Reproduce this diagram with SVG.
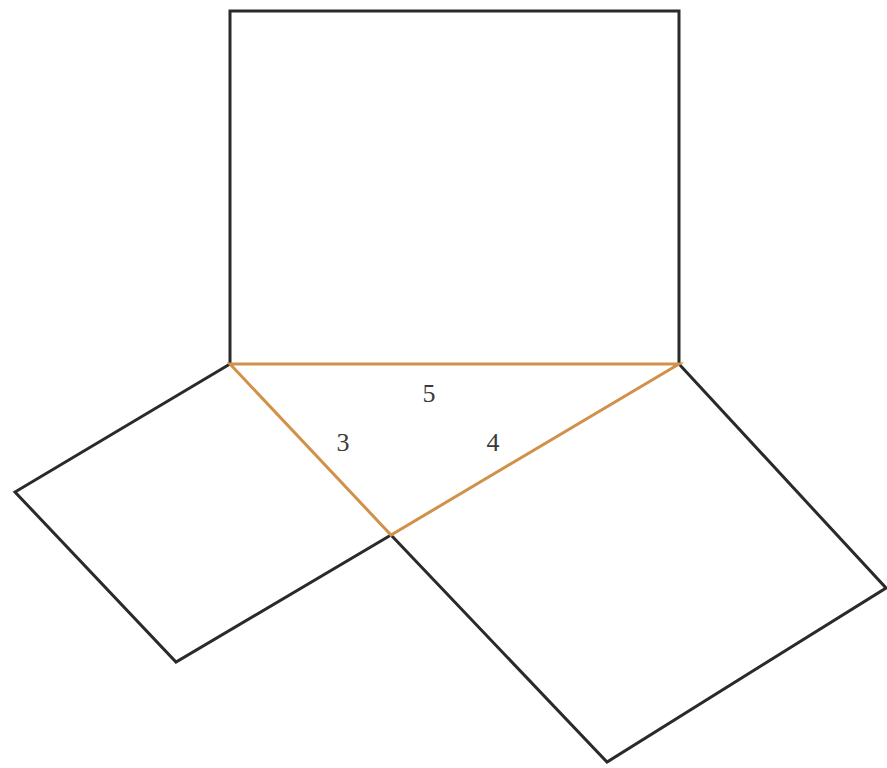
<svg xmlns="http://www.w3.org/2000/svg" width="887" height="768" viewBox="0 0 887 768">
<style>
.sq{fill:none;stroke:#2a2a2a;stroke-width:3;stroke-linejoin:miter}
.tri{fill:none;stroke:#d2914a;stroke-width:3}
.lbl{font-family:"Liberation Serif",serif;font-size:26px;fill:#3a3a3a;text-anchor:middle}
</style>
<rect width="887" height="768" fill="#ffffff"/>
<g id="square-top"><polyline class="sq" points="230,364 230,11 679,11 679,364"/></g>
<g id="square-left"><polyline class="sq" points="230,364 15,492 176,662 391,535"/></g>
<g id="square-right"><polyline class="sq" points="391,535 607,762 886,588 679,364"/></g>
<g id="connectors">
<polygon class="tri" points="230,364 679,364 391,535"/>
</g>
<g id="labels">
<text class="lbl" x="429" y="402">5</text>
<text class="lbl" x="343" y="451">3</text>
<text class="lbl" x="493" y="451">4</text>
</g>
</svg>
